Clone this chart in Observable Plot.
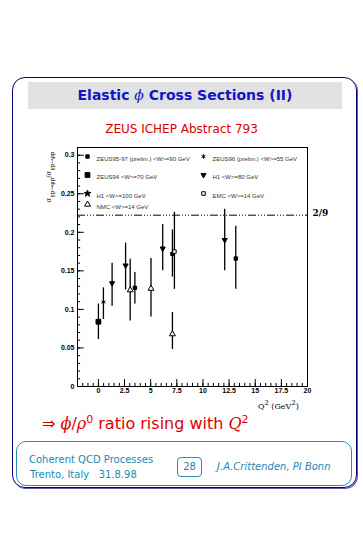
<!DOCTYPE html>
<html>
<head>
<meta charset="utf-8">
<script src="https://cdn.jsdelivr.net/npm/d3@7"></script>
<script src="https://cdn.jsdelivr.net/npm/@observablehq/plot@0.6"></script>
<style>
  html, body { margin: 0; padding: 0; background: #fff; }
  #page { position: relative; width: 363px; height: 535px; overflow: hidden; font-family: "DejaVu Sans", Verdana, sans-serif; }
  .abs { position: absolute; }
  #outer { left: 12px; top: 77px; width: 343px; height: 409px; border: 1.5px solid #00007a; border-radius: 13px; box-shadow: 1px 1px 0 #5a5ab0; }
  #titlebar { left: 28px; top: 82px; width: 314px; height: 27px; background: #e2e2e2; }
  #title { left: 28px; top: 82px; width: 314px; height: 27px; line-height: 27px; text-align: center; color: #1414c8; font-weight: bold; font-size: 14px; }
  #subtitle { left: 0; width: 363px; top: 122px; text-align: center; color: #d80000; font-size: 12px; }
  #ylab { left: 50px; top: 177px; transform: translate(-50%, -50%) rotate(-90deg); white-space: nowrap; font-size: 7px; color: #000; font-family: "DejaVu Serif", serif; }
  #xlab { left: 258px; top: 399px; font-size: 8px; white-space: nowrap; font-family: "DejaVu Serif", serif; }
  #remark { left: 42px; top: 413px; color: #e00000; font-size: 16px; white-space: nowrap; }
  #footer { left: 16px; top: 441px; width: 334px; height: 43px; border: 1.3px solid #2a8cb0; border-radius: 10px; }
  .foot { color: #1e88b0; font-size: 10px; white-space: nowrap; }
  #pagebox { left: 177px; top: 457px; width: 23px; height: 18px; border: 1.3px solid #2a8cb0; border-radius: 4px; text-align: center; line-height: 18px; }
  #chart { left: 0; top: 140px; }
</style>
</head>
<body>
<div id="page">
  <div id="outer" class="abs"></div>
  <div id="titlebar" class="abs"></div>
  <div id="title" class="abs">Elastic <i style="font-family:'DejaVu Serif',serif;font-weight:normal">ϕ</i> Cross Sections (II)</div>
  <div id="subtitle" class="abs">ZEUS ICHEP Abstract 793</div>
  <div id="chart" class="abs"></div>
  <div id="ylab" class="abs">σ<sub>γp→φp</sub>/σ<sub>γp→ρp</sub></div>
  <div id="xlab" class="abs">Q<sup>2</sup> (GeV<sup>2</sup>)</div>
  <div id="remark" class="abs">⇒ <i style="font-family:'DejaVu Serif',serif">ϕ</i>/<i style="font-family:'DejaVu Serif',serif">ρ</i><sup style="font-size:11px">0</sup> ratio rising with <i style="font-family:'DejaVu Serif',serif">Q</i><sup style="font-size:11px">2</sup></div>
  <div id="footer" class="abs"></div>
  <div class="abs foot" style="left:29px;top:454px;">Coherent QCD Processes</div>
  <div class="abs foot" style="left:30px;top:469px;">Trento, Italy &nbsp;&nbsp;31.8.98</div>
  <div id="pagebox" class="abs foot">28</div>
  <div class="abs foot" style="left:217px;top:461px;font-style:italic;">J.A.Crittenden, PI Bonn</div>
</div>
<script>
// ---- data ----
const q2     = [0,     0.48,   1.31,  2.6,   3.04,  3.49,  5.03,  6.15,  7.08,  7.27,  7.08,  12.08, 13.14];
const ratio  = [0.084, 0.1095, 0.134, 0.157, 0.125, 0.128, 0.127, 0.179, 0.172, 0.175, 0.068, 0.190, 0.166];
const errLow = [0.061, 0.087,  0.104, 0.125, 0.085, 0.107, 0.090, 0.150, 0.142, 0.126, 0.048, 0.150, 0.126];
const errHigh= [0.107, 0.128,  0.160, 0.186, 0.165, 0.148, 0.166, 0.210, 0.203, 0.226, 0.096, 0.230, 0.208];
const seriesOf = ["ZEUS94","ZEUS96","H1_80","H1_80","NMC","ZEUS9597","NMC","H1_80","ZEUS9597","EMC","NMC","H1_80","ZEUS9597"];

const seriesKeys   = ["ZEUS9597", "ZEUS94", "H1_100", "NMC", "ZEUS96", "H1_80", "EMC"];
const seriesLabels = ["ZEUS95-97 (prelim.) <W>=90 GeV", "ZEUS94 <W>=70 GeV", "H1 <W>=100 GeV", "NMC <W>=14 GeV",
                      "ZEUS96 (prelim.) <W>=55 GeV", "H1 <W>=80 GeV", "EMC <W>=14 GeV"];

const xTicks = [0, 2.5, 5, 7.5, 10, 12.5, 15, 17.5, 20];
const yTicks = [0, 0.05, 0.1, 0.15, 0.2, 0.25, 0.3];
const refRatio = [2 / 9];
const refLabel = ["2/9"];

const points = q2.map((x, i) => ({x, y: ratio[i], lo: errLow[i], hi: errHigh[i], s: seriesOf[i]}));

// ---- styles ----
const downTriangle = {
  draw(ctx, size) {
    const s = Math.sqrt(size / 0.433) / 2;
    ctx.moveTo(-s, -s * 0.577);
    ctx.lineTo(s, -s * 0.577);
    ctx.lineTo(0, s * 1.155);
    ctx.closePath();
  }
};
const style = {
  ZEUS9597: {symbol: "square", r: 1.9, fill: "black"},
  ZEUS94:   {symbol: "square", r: 2.7, fill: "black"},
  H1_100:   {symbol: "star", r: 2.1, fill: "black"},
  NMC:      {symbol: "triangle", r: 2.2, fill: "white"},
  ZEUS96:   {symbol: "asterisk", r: 2.1, fill: "none"},
  H1_80:    {symbol: downTriangle, r: 1.9, fill: "black"},
  EMC:      {symbol: "square", r: 2.0, fill: "white"}
};

const [x0, x1] = [-2, 20];
const xMinor = d3.range(-2, 20.001, 0.5).map(v => +v.toFixed(2));
const yMinor = d3.range(0, 0.3101, 0.01).map(v => +v.toFixed(3));

const dotMarks = seriesKeys.map(k => Plot.dot(points.filter(p => p.s === k), {
  x: "x", y: "y", symbol: style[k].symbol, r: style[k].r, fill: style[k].fill, stroke: "black", strokeWidth: 1
}));

const legendPos = [[10, 9], [10, 27.5], [10, 46], [10, 57], [126, 9], [126, 27.5], [126, 46]];
const legendMarks = seriesKeys.flatMap((k, i) => [
  Plot.dot([k], {frameAnchor: "top-left", dx: legendPos[i][0], dy: legendPos[i][1],
    symbol: style[k].symbol, r: style[k].r, fill: style[k].fill, stroke: "black", strokeWidth: 1}),
  Plot.text([seriesLabels[i]], {frameAnchor: "top-left", dx: legendPos[i][0] + 9, dy: legendPos[i][1],
    text: d => d, textAnchor: "start", fontSize: 6, fontWeight: "normal", fill: "#333"})
]);

const chart = Plot.plot({
  width: 363, height: 280,
  marginLeft: 77, marginRight: 56, marginTop: 7, marginBottom: 34,
  style: {fontFamily: "'Liberation Sans', Arial, sans-serif", fontSize: "7px", fontWeight: "bold", background: "transparent", overflow: "visible"},
  x: {domain: [x0, x1]},
  y: {domain: [0, 0.31]},
  marks: [
    Plot.axisX({ticks: xTicks, tickSize: 0, tickPadding: 2, label: null, tickFormat: d => String(d)}),
    Plot.axisY({ticks: yTicks, tickSize: 0, tickPadding: 3, label: null, tickFormat: d => String(d)}),
    Plot.ruleX(xMinor, {x: d => d, y1: 0, y2: 0.004, stroke: "black", strokeWidth: 1}),
    Plot.ruleX(xTicks, {x: d => d, y1: 0, y2: 0.009, stroke: "black", strokeWidth: 1}),
    Plot.ruleY(yMinor, {y: d => d, x1: x0, x2: x0 + 0.3, stroke: "black", strokeWidth: 1}),
    Plot.ruleY(yTicks, {y: d => d, x1: x0, x2: x0 + 0.65, stroke: "black", strokeWidth: 1}),
    Plot.ruleY(refRatio, {y: d => d, stroke: "black", strokeWidth: 1, strokeDasharray: "8,2,1,2,1,2,1,2"}),
    Plot.text(refLabel, {y: () => refRatio[0], frameAnchor: "right", dx: 5, dy: -2, text: d => d, textAnchor: "start",
      fontSize: 9, fontWeight: "bold", fontFamily: "'DejaVu Serif', serif"}),
    Plot.ruleX(points, {x: "x", y1: "lo", y2: "hi", stroke: "black", strokeWidth: 1.3}),
    ...dotMarks,
    ...legendMarks,
    Plot.frame({stroke: "black", strokeWidth: 1})
  ]
});
document.getElementById("chart").appendChild(chart);
</script>
</body>
</html>
